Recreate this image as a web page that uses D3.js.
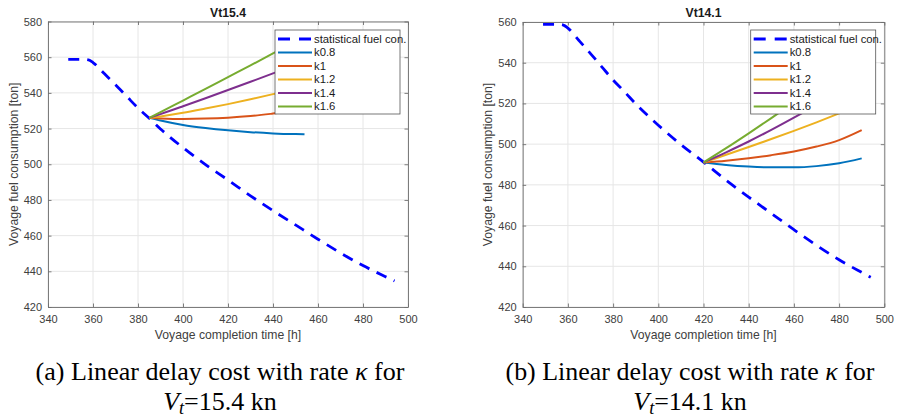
<!DOCTYPE html>
<html>
<head>
<meta charset="utf-8">
<script src="https://cdn.jsdelivr.net/npm/d3@7/dist/d3.min.js"></script>
<style>
  body { margin: 0; background: #fff; }
  svg { display: block; }
</style>
</head>
<body>
<div id="chart"></div>
<script>
// statistical fuel consumption, same curve in both panels
const statTime = [349, 356, 358, 360, 365, 370, 375, 380, 385, 390, 400, 410, 420, 430, 440, 450, 460, 470, 480, 490, 494];
const statFuel = [558.8, 558.8, 558.5, 557, 550.8, 544.5, 538, 531.5, 525.8, 519.8, 509.3, 499.8, 491.2, 482.3, 474, 466, 458, 450.3, 443.2, 437, 434.6];

const seriesNames = ["statistical fuel con.", "k0.8", "k1", "k1.2", "k1.4", "k1.6"];
const seriesColors = ["#0072bd", "#d95319", "#edb120", "#7e2f8e", "#77ac30"];
const xTicks = [340, 360, 380, 400, 420, 440, 460, 480, 500];

// panel (a) Vt 15.4
const leftYTicks = [420, 440, 460, 480, 500, 520, 540, 560, 580];
const leftKTime = [385, 390, 400, 410, 420, 430, 440, 450, 454];
const leftK08 = [526, 524.5, 522, 520.3, 519, 518, 517.3, 516.9, 516.8];
const leftK1 = [526, 525.7, 525.4, 525.6, 526.1, 527, 528.4, 530, 530.7];
const leftK12 = [526, 526.8, 528.8, 531.2, 533.7, 536.4, 539.3, 542.3, 543.6];
const leftK14 = [526, 528.1, 532.5, 537, 541.6, 546.2, 550.9, 555.7, 557.7];
const leftK16 = [526, 529.2, 535.7, 542.2, 548.8, 555.4, 562.1, 568.9, 571.7];

// panel (b) Vt 14.1
const rightYTicks = [420, 440, 460, 480, 500, 520, 540, 560];
const rightKTime = [420, 430, 440, 450, 460, 470, 480, 490];
const rightK08 = [491, 489.8, 489, 488.6, 488.6, 489.2, 490.6, 493];
const rightK1 = [491, 491.9, 493.1, 494.6, 496.4, 498.8, 502, 506.9];
const rightK12 = [491, 494.8, 498.6, 502.5, 506.5, 510.7, 515.1, 519.7];
const rightK14 = [491, 496, 501.3, 507, 513, 519.3, 526, 533];
const rightK16 = [491, 498, 505.3, 512.8, 520.5, 528.5, 536.8, 545.3];

const W = 897, H = 419;
const axisFont = "'Liberation Sans', Arial, sans-serif";
const serifFont = "'Liberation Serif', 'Times New Roman', serif";

const svg = d3.select("#chart").append("svg")
  .attr("width", W).attr("height", H)
  .attr("viewBox", "0 0 " + W + " " + H);

function drawPanel(p) {
  const x = d3.scaleLinear().domain([340, 500]).range([p.left, p.right]);
  const y = d3.scaleLinear().domain([p.yTicks[0], p.yTicks[p.yTicks.length - 1]]).range([p.bottom, p.top]);
  const g = svg.append("g");

  // grid
  g.append("g").selectAll("line").data(xTicks).enter().append("line")
    .attr("x1", d => x(d)).attr("x2", d => x(d))
    .attr("y1", p.top).attr("y2", p.bottom)
    .attr("stroke", "#e6e6e6").attr("stroke-width", 1);
  g.append("g").selectAll("line").data(p.yTicks).enter().append("line")
    .attr("y1", d => y(d)).attr("y2", d => y(d))
    .attr("x1", p.left).attr("x2", p.right)
    .attr("stroke", "#e6e6e6").attr("stroke-width", 1);

  // box + inward ticks on all sides
  const axStyle = sel => {
    sel.select(".domain").attr("stroke", "#6e6e6e").attr("stroke-width", 0.9);
    sel.selectAll(".tick line").attr("stroke", "#6e6e6e").attr("stroke-width", 0.9);
    sel.selectAll("text").attr("fill", "#404040").style("font-family", axisFont).style("font-size", "11px");
  };
  g.append("g").attr("transform", "translate(0," + p.bottom + ")")
    .call(d3.axisBottom(x).tickValues(xTicks).tickSizeInner(-3.5).tickSizeOuter(0).tickPadding(8))
    .call(axStyle);
  g.append("g").attr("transform", "translate(0," + p.top + ")")
    .call(d3.axisTop(x).tickValues(xTicks).tickSizeInner(-3.5).tickSizeOuter(0).tickFormat(""))
    .call(axStyle);
  g.append("g").attr("transform", "translate(" + p.left + ",0)")
    .call(d3.axisLeft(y).tickValues(p.yTicks).tickSizeInner(-3.5).tickSizeOuter(0).tickPadding(6))
    .call(axStyle);
  g.append("g").attr("transform", "translate(" + p.right + ",0)")
    .call(d3.axisRight(y).tickValues(p.yTicks).tickSizeInner(-3.5).tickSizeOuter(0).tickFormat(""))
    .call(axStyle);

  // data lines
  const line = d3.line().x(d => x(d[0])).y(d => y(d[1])).curve(d3.curveMonotoneX);
  g.append("path")
    .datum(statTime.map((t, i) => [t, statFuel[i]]))
    .attr("d", line)
    .attr("fill", "none").attr("stroke", "#0000ff")
    .attr("stroke-width", 2.8).attr("stroke-dasharray", "11,8");
  p.kSeries.forEach((vals, s) => {
    g.append("path")
      .datum(p.kTime.map((t, i) => [t, vals[i]]))
      .attr("d", line)
      .attr("fill", "none").attr("stroke", seriesColors[s])
      .attr("stroke-width", 2).attr("stroke-linejoin", "round");
  });

  // title and axis labels
  g.append("text").attr("x", (p.left + p.right) / 2).attr("y", 16.7)
    .attr("text-anchor", "middle").style("font-family", axisFont)
    .style("font-size", "12.2px").style("font-weight", "bold").attr("fill", "#1a1a1a")
    .text(p.title);
  g.append("text").attr("x", (p.left + p.right) / 2).attr("y", 339)
    .attr("text-anchor", "middle").style("font-family", axisFont)
    .style("font-size", "12.2px").attr("fill", "#404040")
    .text("Voyage completion time [h]");
  g.append("text")
    .attr("transform", "translate(" + p.yLabelX + "," + ((p.top + p.bottom) / 2) + ") rotate(-90)")
    .attr("text-anchor", "middle").style("font-family", axisFont)
    .style("font-size", "12.2px").attr("fill", "#404040")
    .text("Voyage fuel consumption [ton]");

  // legend
  const lg = g.append("g").attr("transform", "translate(" + p.legendX + ",30)");
  lg.append("rect").attr("width", 125).attr("height", 84)
    .attr("fill", "#fff").attr("stroke", "#555").attr("stroke-width", 0.8);
  seriesNames.forEach((name, i) => {
    const ry = 9 + i * 13.5;
    lg.append("line").attr("x1", 3).attr("x2", 37).attr("y1", ry).attr("y2", ry)
      .attr("stroke", i === 0 ? "#0000ff" : seriesColors[i - 1])
      .attr("stroke-width", i === 0 ? 2.8 : 2)
      .attr("stroke-dasharray", i === 0 ? "12,9" : null);
    lg.append("text").attr("x", 39).attr("y", ry).attr("dy", "0.35em")
      .style("font-family", axisFont).style("font-size", "11.3px").attr("fill", "#1a1a1a")
      .text(name);
  });

  // caption
  const cap = svg.append("g").style("font-family", serifFont).attr("fill", "#000");
  const l1 = cap.append("text").attr("x", p.capX).attr("y", 380)
    .attr("text-anchor", "middle").style("font-size", "20px")
    .text(p.capLetter + " Linear delay cost with rate ");
  l1.append("tspan").style("font-style", "italic").text("κ");
  l1.append("tspan").text(" for");
  const fs = 20 * 369 / l1.node().getComputedTextLength();
  l1.style("font-size", fs + "px");
  const l2 = cap.append("text").attr("x", p.capX).attr("y", 410)
    .attr("text-anchor", "middle").style("font-size", fs + "px");
  l2.append("tspan").style("font-style", "italic").text("V");
  l2.append("tspan").style("font-style", "italic").style("font-size", (fs * 0.7) + "px")
    .attr("dy", fs * 0.15).text("t");
  l2.append("tspan").attr("dy", -fs * 0.15).text("=" + p.vt + " kn");
}

drawPanel({
  title: "Vt15.4", left: 48, right: 408, top: 21.5, bottom: 307,
  yTicks: leftYTicks, kTime: leftKTime,
  kSeries: [leftK08, leftK1, leftK12, leftK14, leftK16],
  legendX: 275, yLabelX: 17.5, capX: 220, capLetter: "(a)", vt: "15.4"
});
drawPanel({
  title: "Vt14.1", left: 522.7, right: 884.3, top: 22, bottom: 307,
  yTicks: rightYTicks, kTime: rightKTime,
  kSeries: [rightK08, rightK1, rightK12, rightK14, rightK16],
  legendX: 750.7, yLabelX: 492, capX: 690, capLetter: "(b)", vt: "14.1"
});
</script>
</body>
</html>
